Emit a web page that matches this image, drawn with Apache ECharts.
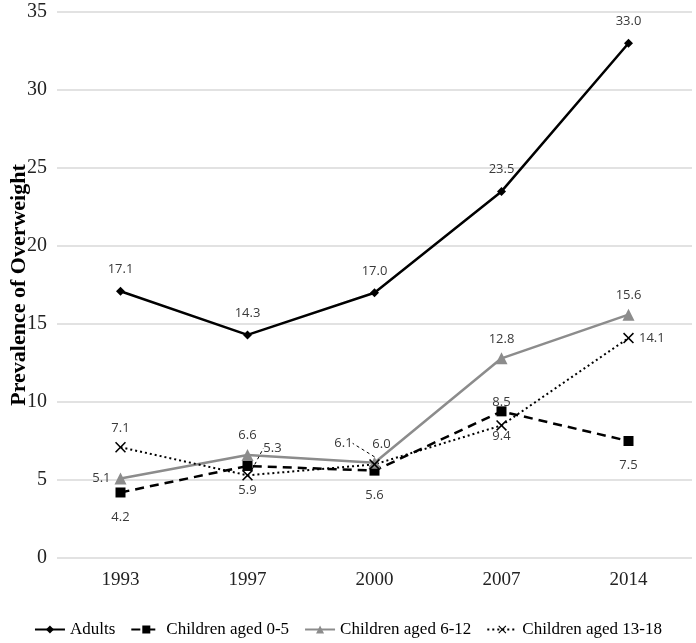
<!DOCTYPE html>
<html>
<head>
<meta charset="utf-8">
<script src="https://cdn.jsdelivr.net/npm/echarts@6/dist/echarts.min.js"></script>
<style>
  html, body { margin: 0; padding: 0; background: #fff; }
  #chart { width: 696px; height: 643px; }
</style>
</head>
<body>
<div id="chart"></div>
<script>
const years = ['1993', '1997', '2000', '2007', '2014'];
const adults = [17.1, 14.3, 17.0, 23.5, 33.0];
const age0to5 = [4.2, 5.9, 5.6, 9.4, 7.5];
const age6to12 = [5.1, 6.6, 6.1, 12.8, 15.6];
const age13to18 = [7.1, 5.3, 6.0, 8.5, 14.1];

const serif = '"Liberation Serif", "Times New Roman", serif';
const narrow = '"Liberation Sans Narrow", "Open Sans", sans-serif';
const xMark = 'path://M0,1L1,0L5,4L9,0L10,1L6,5L10,9L9,10L5,6L1,10L0,9L4,5Z';

// label moves for crowded points (dataIndex -> dx, dy)
const moves6to12 = { 2: [-31, 0] };
const moves13to18 = { 1: [25, -8], 2: [7, -1], 3: [0, -4] };

function fmt(p) { return Number(p.value).toFixed(1); }

const labelBase = {
    show: true,
    formatter: fmt,
    fontFamily: narrow,
    fontSize: 13,
    color: '#3a3a3a'
};

const chart = echarts.init(document.getElementById('chart'));

const option = {
    backgroundColor: '#fff',
    animation: false,
    grid: { left: 57, right: 4, top: 12, bottom: 85, outerBoundsMode: 'none', containLabel: false },
    legend: {
        bottom: 0,
        left: 'center',
        itemWidth: 30,
        itemHeight: 10,
        itemGap: 15,
        textStyle: { fontFamily: serif, fontSize: 17, color: '#000' },
        data: ['Adults', 'Children aged 0-5', 'Children aged 6-12', 'Children aged 13-18']
    },
    xAxis: {
        type: 'category',
        data: years,
        boundaryGap: true,
        axisLine: { show: false },
        axisTick: { show: false },
        axisLabel: { fontFamily: serif, fontSize: 19, color: '#222', margin: 13 }
    },
    yAxis: {
        type: 'value',
        min: 0,
        max: 35,
        interval: 5,
        name: 'Prevalence of Overweight',
        nameLocation: 'middle',
        nameGap: 27,
        nameMoveOverlap: false,
        nameTextStyle: { fontFamily: serif, fontSize: 22, fontWeight: 'bold', color: '#000' },
        axisLabel: { fontFamily: serif, fontSize: 20, color: '#222', margin: 10 },
        splitLine: { lineStyle: { color: '#d9d9d9', width: 1.5 } }
    },
    series: [
        {
            name: 'Adults',
            type: 'line',
            data: adults,
            symbol: 'diamond',
            symbolSize: 9,
            itemStyle: { color: '#000' },
            lineStyle: { color: '#000', width: 2.5 },
            label: Object.assign({}, labelBase, { position: 'top', distance: 11 })
        },
        {
            name: 'Children aged 0-5',
            type: 'line',
            data: age0to5,
            symbol: 'rect',
            symbolSize: 10,
            itemStyle: { color: '#000' },
            lineStyle: { color: '#000', width: 2.5, type: [9, 6] },
            label: Object.assign({}, labelBase, { position: 'bottom', distance: 13 })
        },
        {
            name: 'Children aged 6-12',
            type: 'line',
            data: age6to12.map((v, i) => i === 0
                ? { value: v, label: { position: 'left', distance: 4, offset: [0, 3] } }
                : i === 2 ? { value: v, labelLine: { show: true } } : v),
            symbol: 'triangle',
            symbolSize: 12,
            itemStyle: { color: '#8c8c8c' },
            lineStyle: { color: '#8c8c8c', width: 2.5 },
            label: Object.assign({}, labelBase, { position: 'top', distance: 7 }),
            labelLine: { show: false, lineStyle: { color: '#000', width: 1, type: [3, 3] } },
            labelLayout: function (p) {
                const m = moves6to12[p.dataIndex];
                return m ? { dx: m[0], dy: m[1] } : {};
            }
        },
        {
            name: 'Children aged 13-18',
            type: 'line',
            data: age13to18.map((v, i) => i === 4
                ? { value: v, label: { position: 'right', distance: 5, offset: [0, 3] } }
                : i === 1 ? { value: v, labelLine: { show: true } } : v),
            symbol: xMark,
            symbolSize: 11,
            itemStyle: { color: '#000' },
            lineStyle: { color: '#000', width: 2, type: [2, 3] },
            label: Object.assign({}, labelBase, { position: 'top', distance: 7 }),
            labelLine: { show: false, lineStyle: { color: '#000', width: 1, type: [3, 3] } },
            labelLayout: function (p) {
                const m = moves13to18[p.dataIndex];
                return m ? { dx: m[0], dy: m[1] } : {};
            }
        }
    ]
};

chart.setOption(option);
</script>
</body>
</html>
